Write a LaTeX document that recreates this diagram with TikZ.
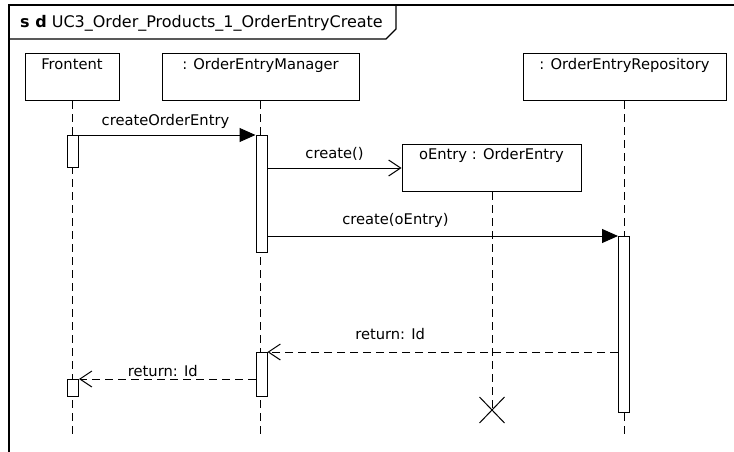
\documentclass[tikz,border=0pt]{standalone}
\usepackage{fontspec}
\setmainfont{DejaVu Sans}
\usepackage{tikz}
\usetikzlibrary{arrows.meta,positioning,shapes.misc}

\begin{document}
\begin{tikzpicture}[
    x=1pt, y=-1pt,
    font=\fontsize{14.7}{17}\selectfont,
    head/.style={rectangle, draw, line width=1pt, inner sep=0pt, text height=16pt, text depth=31pt, anchor=north},
    bar/.style={rectangle, draw, fill=white, line width=1pt, minimum width=11pt, inner sep=0pt, anchor=north},
    life/.style={dash pattern=on 8pt off 5pt, line width=1pt},
    call/.style={-{Triangle[length=16pt,width=14pt]}, line width=1pt},
    newmsg/.style={-{Straight Barb[length=12pt,width=16pt]}, line width=1pt},
    reply/.style={-{Straight Barb[length=12pt,width=16pt]}, dash pattern=on 8pt off 5pt, line width=1pt},
    msg/.style={anchor=base, inner sep=0pt},
    destroy/.style={cross out, draw, line width=1pt, minimum width=24pt, minimum height=25pt, inner sep=0pt}
]
\useasboundingbox (0,0) rectangle (734,452);

% Frame
\draw[line width=1.1pt] (734,5) -- (9,5) -- (9,452);
\node[anchor=base west, inner sep=0pt, font=\fontsize{16}{18}\selectfont] (title) at (20,28) {\textbf{s d} UC3\_Order\_Products\_1\_OrderEntryCreate};
\draw[line width=1.1pt] (9,39) -- (386,39) -- (396,29) -- (396,5);

% Lifeline heads
\node[head, minimum width=94pt] (frontent) at (72,53) {Frontent};
\node[head, minimum width=197pt] (manager) at (260.5,53) {: OrderEntryManager};
\node[head, minimum width=203pt] (repo) at (624.5,53) {: OrderEntryRepository};
\node[head, minimum width=179pt, text height=15pt, text depth=32pt] (oentry) at (491.5,144) {oEntry : OrderEntry};
\coordinate (bottom) at (0,438);
\node[destroy] (kill) at (492,410) {};

% Lifelines
\draw[life] (frontent.south -| 72,0) -- (72,0 |- bottom);
\draw[life] (manager.south -| 260,0) -- (260,0 |- bottom);
\draw[life] (repo.south -| 624,0) -- (624,0 |- bottom);
\draw[life] (oentry.south -| kill) -- (kill.center);

% Activations
\node[bar, minimum height=32pt] (fbar1) at (73,135) {};
\node[bar, minimum height=117pt] (mbar1) at (261.5,135) {};
\node[bar, minimum height=176pt] (rbar) at (624,236) {};
\node[bar, minimum height=44pt] (mbar2) at (261.5,352) {};
\node[bar, minimum height=17pt] (fbar2) at (73,379) {};

% Messages
\draw[call] (fbar1.north east) -- node[msg, pos=0.49, yshift=10pt] {createOrderEntry} (mbar1.north west);
\draw[newmsg] (mbar1.east |- oentry.west) -- node[msg, yshift=10pt] {create()} (oentry.west);
\draw[call] (mbar1.east |- rbar.north) -- node[msg, pos=0.365, yshift=12pt] {create(oEntry)} (rbar.north west);
\draw[reply] (rbar.west |- mbar2.north) -- node[msg, pos=0.65, yshift=13pt] {return: Id} (mbar2.north east);
\draw[reply] (mbar2.west |- fbar2.north) -- node[msg, pos=0.525, yshift=3pt] {return: Id} (fbar2.north east);

\end{tikzpicture}
\end{document}
